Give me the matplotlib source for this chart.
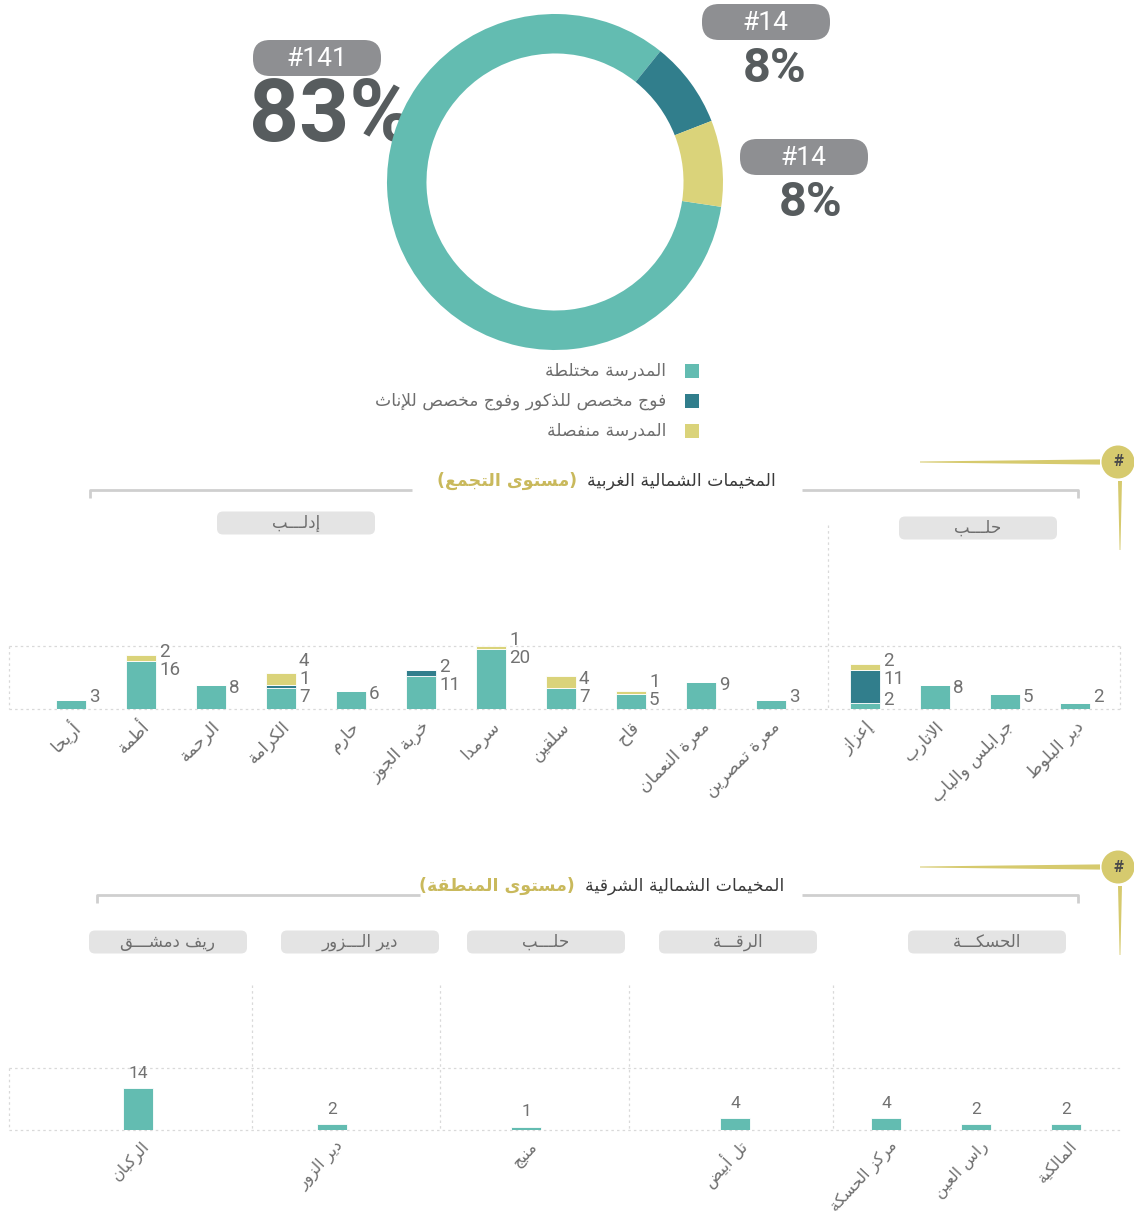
import matplotlib
matplotlib.use("Agg")

import matplotlib.pyplot as plt
import numpy as np
from matplotlib.patches import Circle, FancyBboxPatch, Polygon, Rectangle

W, H = 1134, 1218

TEAL = "#63bcb1"
DARK_TEAL = "#317e8c"
YELLOW = "#dad37a"
GOLD = "#d6ca6e"
GOLD_TEXT = "#c9b95c"
BOX_GRAY = "#8e8f92"
TEXT_GRAY = "#6e6e6e"
BIG_GRAY = "#575c5e"
LINE_GRAY = "#cfcfcf"

# school arrangement across all camps
school_types = ["المدرسة مختلطة", "فوج مخصص للذكور وفوج مخصص للإناث", "المدرسة منفصلة"]
school_counts = [141, 14, 14]
school_colors = [TEAL, DARK_TEAL, YELLOW]

# north-west camps (camp cluster level)
west_title = "المخيمات الشمالية الغربية"
west_subtitle = "(مستوى التجمع)"
west_regions = ["إدلـــب", "حلـــب"]
west_region_sizes = [11, 4]
west_camps = ["أريحا", "أطمة", "الرحمة", "الكرامة", "حارم", "خربة الجوز", "سرمدا",
              "سلقين", "قاح", "معرة النعمان", "معرة تمصرين",
              "إعزاز", "الاتارب", "جرابلس والباب", "دير البلوط"]
west_mixed = [3, 16, 8, 7, 6, 11, 20, 7, 5, 9, 3, 2, 8, 5, 2]
west_split = [0, 0, 0, 1, 0, 2, 0, 0, 0, 0, 0, 11, 0, 0, 0]
west_separate = [0, 2, 0, 4, 0, 0, 1, 4, 1, 0, 0, 2, 0, 0, 0]

# north-east camps (area level)
east_title = "المخيمات الشمالية الشرقية"
east_subtitle = "(مستوى المنطقة)"
east_regions = ["ريف دمشـــق", "دير الـــزور", "حلـــب", "الرقـــة", "الحسكـــة"]
east_camps = ["الركبان", "دير الزور", "منبج", "تل أبيض", "مركز الحسكة", "راس العين", "المالكية"]
east_mixed = [14, 2, 1, 4, 4, 2, 2]


# --- minimal Arabic shaping: contextual forms + RTL order -------------------
_DUAL = {"ئ": 0xFE89, "ب": 0xFE8F, "ت": 0xFE95, "ث": 0xFE99, "ج": 0xFE9D, "ح": 0xFEA1,
         "خ": 0xFEA5, "س": 0xFEB1, "ش": 0xFEB5, "ص": 0xFEB9, "ض": 0xFEBD, "ط": 0xFEC1,
         "ظ": 0xFEC5, "ع": 0xFEC9, "غ": 0xFECD, "ف": 0xFED1, "ق": 0xFED5, "ك": 0xFED9,
         "ل": 0xFEDD, "م": 0xFEE1, "ن": 0xFEE5, "ه": 0xFEE9, "ي": 0xFEF1}
_RIGHT = {"آ": 0xFE81, "أ": 0xFE83, "ؤ": 0xFE85, "إ": 0xFE87, "ا": 0xFE8D, "ة": 0xFE93,
          "د": 0xFEA9, "ذ": 0xFEAB, "ر": 0xFEAD, "ز": 0xFEAF, "و": 0xFEED, "ى": 0xFEEF}
_LAM_ALEF = {"آ": 0xFEF5, "أ": 0xFEF7, "إ": 0xFEF9, "ا": 0xFEFB}
_TATWEEL = "ـ"
_MIRROR = {"(": ")", ")": "("}


def ar(text):
    out = []
    prev_joins = False
    i = 0
    while i < len(text):
        c = text[i]
        nxt = text[i + 1] if i + 1 < len(text) else ""
        if c == "ل" and nxt in _LAM_ALEF:
            out.append(chr(_LAM_ALEF[nxt] + (1 if prev_joins else 0)))
            prev_joins = False
            i += 2
            continue
        if c == _TATWEEL:
            out.append(c)
            prev_joins = True
        elif c in _DUAL:
            base = _DUAL[c]
            next_joins = nxt in _DUAL or nxt in _RIGHT or nxt == _TATWEEL
            if prev_joins and next_joins:
                out.append(chr(base + 3))
            elif prev_joins:
                out.append(chr(base + 1))
            elif next_joins:
                out.append(chr(base + 2))
            else:
                out.append(chr(base))
            prev_joins = True
        elif c in _RIGHT:
            out.append(chr(_RIGHT[c] + (1 if prev_joins else 0)))
            prev_joins = False
        else:
            out.append(c)
            prev_joins = False
        i += 1
    return "".join(_MIRROR.get(ch, ch) for ch in reversed(out))


AR_FONT = ["DejaVu Sans"]
NUM_FONT = ["Roboto", "DejaVu Sans"]

fig = plt.figure(figsize=(W / 100, H / 100), dpi=100)
fig.patch.set_facecolor("white")

# overlay in pixel coordinates for headers, boxes and ornaments
ov = fig.add_axes([0, 0, 1, 1])
ov.set_xlim(0, W)
ov.set_ylim(H, 0)
ov.axis("off")


def rounded_box(cx, cy, w, h, color, radius):
    ov.add_patch(FancyBboxPatch((cx - w / 2, cy - h / 2), w, h,
                                boxstyle=f"round,pad=0,rounding_size={radius}",
                                fc=color, ec="none"))


def dotted(xs, ys):
    ov.plot(xs, ys, color="#d9d9d9", lw=0.9, ls=(0, (2, 2.5)))


# ---------------- donut ----------------
cx, cy, r = 555, 182, 168
ax_pie = fig.add_axes([(cx - r) / W, 1 - (cy + r) / H, 2 * r / W, 2 * r / H])
ax_pie.pie(school_counts, colors=school_colors, startangle=-8.5, counterclock=False,
           radius=1, wedgeprops=dict(width=0.235, edgecolor="none"))
ax_pie.set_xlim(-1, 1)
ax_pie.set_ylim(-1, 1)
ax_pie.axis("off")

total = sum(school_counts)
count_boxes = [(317, 58), (766, 22), (804, 157)]
pct_pos = [(331, 117), (775, 69), (811, 203)]
pct_sizes = [63, 35, 35]
for n, (bx, by), (px, py), fs in zip(school_counts, count_boxes, pct_pos, pct_sizes):
    rounded_box(bx, by, 128, 36, BOX_GRAY, 17)
    ov.text(bx, by + 1, f"#{n}", ha="center", va="center", color="white",
            fontsize=19, family=NUM_FONT)
    ov.text(px, py, f"{round(100 * n / total)}%", ha="center", va="center",
            color=BIG_GRAY, fontsize=fs, family=NUM_FONT, fontweight="bold", zorder=5)

# legend
for k, (name, col) in enumerate(zip(school_types, school_colors)):
    y = 371 + 30 * k
    ov.add_patch(Rectangle((685, y - 7), 14, 14, fc=col, ec="none"))
    ov.text(666, y, ar(name), ha="right", va="center", color=TEXT_GRAY,
            fontsize=12.3, family=AR_FONT)


# ---------------- section headers ----------------
def section_header(title, subtitle, y, title_right, left_end, right_start, badge_y, v_end):
    t = ov.text(title_right, y, ar(title), ha="right", va="center",
                color="#3a3a3a", fontsize=12.5, family=AR_FONT)
    ov.annotate(ar(subtitle), xy=(0, 0.5), xycoords=t, xytext=(-7, 0),
                textcoords="offset points", ha="right", va="center",
                color=GOLD_TEXT, fontsize=12.5, family=AR_FONT, fontweight="bold")
    ly = y + 9
    ov.plot([left_end[0], left_end[0], left_end[1]], [ly + 8, ly, ly],
            color=LINE_GRAY, lw=2, solid_capstyle="butt")
    ov.plot([right_start[0], right_start[1], right_start[1]], [ly, ly, ly + 8],
            color=LINE_GRAY, lw=2, solid_capstyle="butt")
    # gold badge with tapering rules
    ov.add_patch(Polygon([(920, badge_y - 0.5), (1100, badge_y - 2.6),
                          (1100, badge_y + 2.6), (920, badge_y + 0.5)],
                         closed=True, fc=GOLD, ec="none"))
    ov.add_patch(Polygon([(1118, badge_y + 19), (1122, badge_y + 19),
                          (1120.4, v_end), (1119.6, v_end)],
                         closed=True, fc=GOLD, ec="none"))
    ov.add_patch(Circle((1118, badge_y), 16.5, fc=GOLD, ec="none"))
    ov.text(1118, badge_y, "#", ha="center", va="center", color="#4a4a4a",
            fontsize=12, fontweight="bold", family=NUM_FONT)


section_header(west_title, west_subtitle, 481, 776, (90, 412), (802, 1078), 462, 550)
section_header(east_title, east_subtitle, 886, 784, (97, 420), (802, 1078), 867, 955)

# region tabs
for name, (bx, by) in zip(west_regions, [(296, 523), (978, 528)]):
    rounded_box(bx, by, 158, 23, "#e4e4e4", 6)
    ov.text(bx, by, ar(name), ha="center", va="center", color=TEXT_GRAY,
            fontsize=12, family=AR_FONT)
for name, bx in zip(east_regions, [168, 360, 546, 738, 987]):
    rounded_box(bx, 942, 158, 23, "#e4e4e4", 6)
    ov.text(bx, 942, ar(name), ha="center", va="center", color=TEXT_GRAY,
            fontsize=12, family=AR_FONT)

# ---------------- north-west stacked bars ----------------
PX_PER_UNIT = 3.0
west_base = 709
ymax_w = 21
ax_w = fig.add_axes([0, 1 - west_base / H, 1, ymax_w * PX_PER_UNIT / H])
ax_w.set_xlim(0, W)
ax_w.set_ylim(0, ymax_w)
ax_w.axis("off")
ax_w.patch.set_visible(False)

x_west = np.concatenate([71 + 70 * np.arange(west_region_sizes[0]),
                         865 + 70 * np.arange(west_region_sizes[1])])
mixed = np.array(west_mixed)
split = np.array(west_split)
sep = np.array(west_separate)
ax_w.bar(x_west, mixed, width=30, color=TEAL, edgecolor="white", lw=0.6)
ax_w.bar(x_west, split, width=30, bottom=mixed, color=DARK_TEAL, edgecolor="white", lw=0.6)
ax_w.bar(x_west, sep, width=30, bottom=mixed + split, color=YELLOW, edgecolor="white", lw=0.6)

for x, segs in zip(x_west, zip(west_mixed, west_split, west_separate)):
    nonzero = [v for v in segs if v > 0]
    top, last = 0, -np.inf
    for v in segs:
        top += v
        if v == 0:
            continue
        if len(nonzero) == 1:
            ly = max(v - 1, 4)
        else:
            ly = max(top - 3, 3, last + 6)
        last = ly
        ax_w.text(x + 18, ly, str(v), ha="left", va="center", color="#727272",
                  fontsize=13.5, family=NUM_FONT)

for x, name in zip(x_west, west_camps):
    ax_w.text(x + 6, -5, ar(name), ha="right", va="center", rotation=45,
              rotation_mode="anchor", color=TEXT_GRAY, fontsize=12.3, family=AR_FONT)

dotted([9, 1120], [west_base, west_base])
dotted([9, 1120], [646, 646])
dotted([9, 9], [646, west_base])
dotted([1120, 1120], [646, west_base])
dotted([828, 828], [525, west_base])

# ---------------- north-east bars ----------------
east_base = 1130
ymax_e = 21
ax_e = fig.add_axes([0, 1 - east_base / H, 1, ymax_e * PX_PER_UNIT / H])
ax_e.set_xlim(0, W)
ax_e.set_ylim(0, ymax_e)
ax_e.axis("off")
ax_e.patch.set_visible(False)

x_east = [138, 332, 526, 735, 886, 976, 1066]
ax_e.bar(x_east, east_mixed, width=30, color=TEAL, edgecolor="white", lw=0.6)
for x, v in zip(x_east, east_mixed):
    ax_e.annotate(str(v), xy=(x, v), xytext=(0, 15), textcoords="offset pixels",
                  ha="center", va="center", color="#727272", fontsize=12.5,
                  family=NUM_FONT)
for x, name in zip(x_east, east_camps):
    ax_e.text(x + 9, -4.5, ar(name), ha="right", va="center", rotation=47,
              rotation_mode="anchor", color=TEXT_GRAY, fontsize=11.5, family=AR_FONT)

dotted([9, 1120], [east_base, east_base])
dotted([9, 1120], [1068, 1068])
dotted([9, 9], [1068, east_base])
for sx in [252, 440, 629, 833]:
    dotted([sx, sx], [985, east_base])

fig.savefig("out.png", dpi=100, facecolor="white")
